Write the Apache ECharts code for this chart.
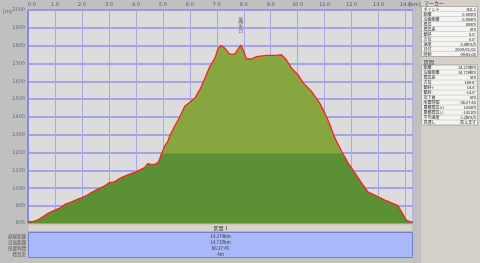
<!DOCTYPE html>
<html><head><meta charset="utf-8">
<script src="https://cdn.jsdelivr.net/npm/echarts@6/dist/echarts.min.js"></script>
<style>html,body{margin:0;padding:0;background:#c0c0c0;}#c{width:480px;height:263px;}</style>
</head><body><div id="c"></div>
<script>
// distance [km]
var distances = [0, 0.15, 0.37, 0.55, 0.74, 1.02, 1.2, 1.36, 1.6, 1.85, 2.0, 2.2, 2.35, 2.59, 2.8, 3.02, 3.2, 3.46, 3.7, 4.01, 4.15, 4.32, 4.44, 4.52, 4.59, 4.72, 4.85, 4.94, 5.07, 5.19, 5.26, 5.44, 5.63, 5.81, 6.0, 6.19, 6.37, 6.56, 6.74, 6.93, 7.05, 7.17, 7.30, 7.46, 7.67, 7.77, 7.89, 7.97, 8.10, 8.28, 8.47, 8.84, 9.21, 9.40, 9.58, 9.77, 10.01, 10.20, 10.51, 10.81, 11.0, 11.19, 11.37, 11.62, 11.86, 12.11, 12.36, 12.60, 12.91, 13.28, 13.59, 13.72, 13.90, 14.02, 14.15, 14.274];
// elevation [m]
var elevations = [812, 812, 823, 840, 859, 879, 890, 909, 922, 939, 948, 962, 976, 995, 1010, 1032, 1036, 1060, 1075, 1092, 1103, 1116, 1138, 1135, 1129, 1134, 1150, 1190, 1237, 1265, 1296, 1349, 1401, 1460, 1482, 1507, 1553, 1619, 1683, 1730, 1786, 1801, 1786, 1754, 1752, 1777, 1803, 1777, 1726, 1725, 1739, 1745, 1745, 1749, 1721, 1674, 1637, 1591, 1544, 1479, 1423, 1358, 1284, 1209, 1144, 1088, 1032, 980, 958, 930, 911, 902, 855, 822, 813, 810];
var yTicks = [805, 900, 1000, 1100, 1200, 1300, 1400, 1500, 1600, 1700, 1800, 1900, 2000];
var xTicks = [0, 1, 2, 3, 4, 5, 6, 7, 8, 9, 10, 11, 12, 13, 14];
var yMin = 805, yMax = 2000, xMax = 14.274;
var bandLevel = 1195; // colour change of the fill
var markerName = '展望台';
var markerDist = 7.89;
var markerLabels = ['ポイント','距離','沿面距離','標高','標高差','傾斜','方位','速度','日付','時刻'];
var markerValues = ['No. 1','0.000m','0.000m','808m','0m','0.0°','0.0°','0.0km/h','2009/01/01','09:05:00'];
var sectionLabels = ['距離','沿面距離','標高差','方位','傾斜+','傾斜-','沈下量','所要時間','累積標高(+)','累積標高(-)','平均速度','見通し'];
var sectionValues = ['14.274km','14.719km','5m','169.6°','14.4°','-14.0°','-5m','06:27:45','1438m','-1431m','2.2km/h','見えます'];
var summaryLabels = ['直線距離','沿面距離','所要時間','標高差'];
var summaryValues = ['14.274km','14.719km','06:27:45','4m'];
var sectionTitle = '区間 1';

var full = distances.map(function(d,i){return [d, elevations[i]];});
var low = distances.map(function(d,i){return [d, Math.min(elevations[i], bandLevel)];});

var FONT = 'Noto Sans CJK JP';
var graphics = [];
// right panel
graphics.push({type:'rect', shape:{x:413,y:0,width:8,height:263}, style:{fill:'#c0c0c0'}, silent:true});
graphics.push({type:'rect', shape:{x:421,y:0,width:59,height:263}, style:{fill:'#d4d0c8'}, silent:true});
function panel(title, y0, labels, values, rowH){
  graphics.push({type:'text', x:424, y:y0, style:{text:title, font:'5px "'+FONT+'"', fill:'#333', verticalAlign:'middle'}});
  var top = y0+3;
  graphics.push({type:'rect', shape:{x:421.5,y:top,width:56,height:labels.length*rowH}, style:{fill:'#f4f4f0', stroke:'#8a8a8a', lineWidth:0.6}});
  for (var i=0;i<labels.length;i++){
    var yy = top + i*rowH;
    if (i>0) graphics.push({type:'line', shape:{x1:422,y1:yy,x2:477,y2:yy}, style:{stroke:'#b8b8b8', lineWidth:0.5}});
    graphics.push({type:'text', x:423.5, y:yy+rowH/2, style:{text:labels[i], font:'4px "'+FONT+'"', fill:'#222', verticalAlign:'middle'}});
    graphics.push({type:'text', x:476, y:yy+rowH/2, style:{text:values[i], font:'4px "'+FONT+'"', fill:'#222', verticalAlign:'middle', align:'right'}});
  }
}
panel('マーカー', 3.5, markerLabels, markerValues, 5);
panel('区間', 62, sectionLabels, sectionValues, 5);
// bottom summary
graphics.push({type:'rect', shape:{x:28,y:224,width:385,height:7.5}, style:{fill:'#d8d4cc', stroke:'#a0a0a0', lineWidth:0.5}});
graphics.push({type:'text', x:220.5, y:228, style:{text:sectionTitle, font:'5px "'+FONT+'"', fill:'#333', align:'center', verticalAlign:'middle'}});
graphics.push({type:'rect', shape:{x:28.5,y:232.5,width:384,height:25}, style:{fill:'#a8b8f8', stroke:'#7080d8', lineWidth:1}});
for (var k=0;k<summaryLabels.length;k++){
  graphics.push({type:'text', x:26, y:236.5+k*6, style:{text:summaryLabels[k], font:'4.5px "'+FONT+'"', fill:'#555', align:'right', verticalAlign:'middle'}});
  graphics.push({type:'text', x:220.5, y:236.5+k*6, style:{text:summaryValues[k], font:'4.5px "'+FONT+'"', fill:'#333', align:'center', verticalAlign:'middle'}});
}
graphics.push({type:'text', x:3, y:12, style:{text:'[m]', font:'5px "DejaVu Sans"', fill:'#555', verticalAlign:'middle'}});
graphics.push({type:'text', x:409, y:5, style:{text:'[km]', font:'5px "DejaVu Sans"', fill:'#555', verticalAlign:'middle'}});

var chart = echarts.init(document.getElementById('c'), null, {renderer:'canvas'});
chart.setOption({
  animation:false,
  backgroundColor:'#c0c0c0',
  grid:{left:28, top:10, right:67, bottom:40, show:true, backgroundColor:'#dcdcdc', borderColor:'#8888ee', borderWidth:1},
  xAxis:{type:'value', position:'top', min:0, max:xMax,
    axisLine:{show:false},
    axisTick:{show:false, customValues:xTicks},
    axisLabel:{fontSize:5, color:'#555577', margin:3, fontFamily:'DejaVu Sans', alignMinLabel:'left', customValues:xTicks,
      formatter:function(v){return v.toFixed(1);}},
    splitLine:{show:true, lineStyle:{color:'#a8a8e0', width:1}}},
  yAxis:{type:'value', min:yMin, max:yMax,
    axisLine:{show:true, lineStyle:{color:'#7f7fff', width:1.5}},
    axisTick:{show:false, customValues:yTicks},
    axisLabel:{fontSize:5, color:'#666688', margin:3, fontFamily:'DejaVu Sans', customValues:yTicks,
      formatter:function(v){return String(v);}},
    splitLine:{show:true, lineStyle:{color:'#9090ec', width:1.5}}},
  graphic:graphics,
  series:[
    {type:'line', data:full, symbol:'none', lineStyle:{width:0}, areaStyle:{color:'#87a63f', opacity:1}, z:2},
    {type:'line', data:low, symbol:'none', lineStyle:{width:0}, areaStyle:{color:'#5b9035', opacity:1}, z:3},
    {type:'line', data:full, symbol:'none', lineStyle:{width:1.3, color:'#ff2020'}, z:4},
    {type:'scatter', data:[[markerDist, 1920]], symbolSize:0, z:5,
      label:{show:true, formatter:markerName.split('').join('\n'), fontSize:5, lineHeight:5.5, color:'#333', fontFamily:FONT, position:'inside'}}
  ]
});
</script></body></html>
